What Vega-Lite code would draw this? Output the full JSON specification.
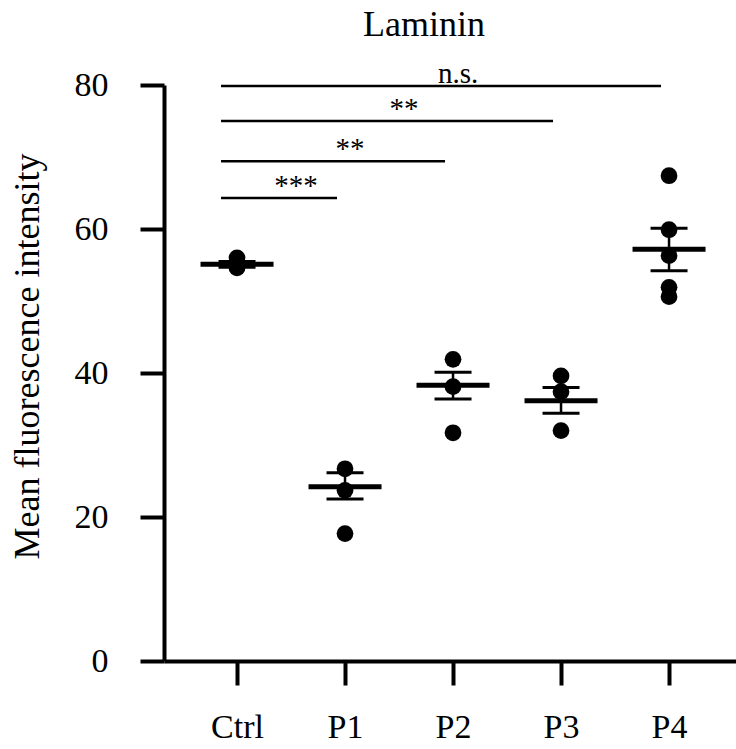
{
  "$schema": "https://vega.github.io/schema/vega-lite/v6.json",
  "width": 572,
  "height": 576,
  "autosize": "none",
  "padding": {"left": 164, "top": 85, "right": 0, "bottom": 88},
  "background": "white",
  "config": {"font": "Liberation Serif", "view": {"stroke": null}},
  "title": {"text": "Laminin", "font": "Liberation Serif", "fontSize": 36, "fontWeight": "normal", "color": "black", "frame": "group", "anchor": "middle", "dx": -26, "dy": 12, "baseline": "alphabetic", "offset": 0},
  "datasets": {
    "points": [
      {"group": "Ctrl", "pos": 0, "value": 56.0},
      {"group": "Ctrl", "pos": 0, "value": 55.0},
      {"group": "Ctrl", "pos": 0, "value": 54.6},
      {"group": "P1", "pos": 1, "value": 26.7},
      {"group": "P1", "pos": 1, "value": 23.7},
      {"group": "P1", "pos": 1, "value": 17.7},
      {"group": "P2", "pos": 2, "value": 41.9},
      {"group": "P2", "pos": 2, "value": 38.1},
      {"group": "P2", "pos": 2, "value": 31.7},
      {"group": "P3", "pos": 3, "value": 39.6},
      {"group": "P3", "pos": 3, "value": 37.4},
      {"group": "P3", "pos": 3, "value": 32.0},
      {"group": "P4", "pos": 4, "value": 67.4},
      {"group": "P4", "pos": 4, "value": 59.9},
      {"group": "P4", "pos": 4, "value": 56.3},
      {"group": "P4", "pos": 4, "value": 51.9},
      {"group": "P4", "pos": 4, "value": 50.6}
    ],
    "summary": [
      {"group": "Ctrl", "pos": 0, "mean": 55.1, "lo": 54.7, "hi": 55.5},
      {"group": "P1", "pos": 1, "mean": 24.2, "lo": 22.5, "hi": 26.15},
      {"group": "P2", "pos": 2, "mean": 38.3, "lo": 36.4, "hi": 40.1},
      {"group": "P3", "pos": 3, "mean": 36.15, "lo": 34.4, "hi": 38.0},
      {"group": "P4", "pos": 4, "mean": 57.2, "lo": 54.2, "hi": 60.1}
    ],
    "brackets": [
      {"label": "n.s.", "from": 0, "to": 4, "level": 79.86},
      {"label": "**", "from": 0, "to": 3, "level": 75.0},
      {"label": "**", "from": 0, "to": 2, "level": 69.4},
      {"label": "***", "from": 0, "to": 1, "level": 64.3}
    ]
  },
  "encoding": {
    "x": {
      "type": "quantitative",
      "scale": {"domain": [-0.676, 4.62], "nice": false, "zero": false},
      "axis": {
        "values": [0, 1, 2, 3, 4],
        "labelExpr": "['Ctrl','P1','P2','P3','P4'][datum.value]",
        "title": null,
        "grid": false,
        "domainColor": "black",
        "domainWidth": 4,
        "tickColor": "black",
        "tickWidth": 4,
        "tickSize": 24,
        "labelFont": "Liberation Serif",
        "labelFontSize": 34,
        "labelColor": "black",
        "labelPadding": 25,
        "labelFlush": false,
        "labelOverlap": false
      }
    }
  },
  "layer": [
    {
      "data": {"name": "points"},
      "mark": {"type": "circle", "color": "black", "opacity": 1, "size": 280},
      "encoding": {
        "x": {"field": "pos", "type": "quantitative"},
        "y": {
          "field": "value",
          "type": "quantitative",
          "scale": {"domain": [0, 80], "nice": false},
          "axis": {
            "values": [0, 20, 40, 60, 80],
            "title": "Mean fluorescence intensity",
            "titleFont": "Liberation Serif",
            "titleFontSize": 36,
            "titleFontWeight": "normal",
            "titleColor": "black",
            "titleX": -137,
            "titleY": 271,
            "titleAlign": "center",
            "titleBaseline": "middle",
            "grid": false,
            "domainColor": "black",
            "domainWidth": 4,
            "tickColor": "black",
            "tickWidth": 4,
            "tickSize": 24,
            "labelFont": "Liberation Serif",
            "labelFontSize": 34,
            "labelColor": "black",
            "labelPadding": 32,
            "labelFlush": false
          }
        }
      }
    },
    {
      "data": {"name": "summary"},
      "mark": {"type": "tick", "orient": "horizontal", "color": "black", "opacity": 1, "size": 73, "thickness": 5},
      "encoding": {
        "x": {"field": "pos", "type": "quantitative"},
        "y": {"field": "mean", "type": "quantitative"}
      }
    },
    {
      "data": {"name": "summary"},
      "mark": {"type": "rule", "color": "black", "strokeWidth": 2.5},
      "encoding": {
        "x": {"field": "pos", "type": "quantitative"},
        "y": {"field": "lo", "type": "quantitative"},
        "y2": {"field": "hi"}
      }
    },
    {
      "data": {"name": "summary"},
      "mark": {"type": "tick", "orient": "horizontal", "color": "black", "opacity": 1, "size": 37, "thickness": 3},
      "encoding": {
        "x": {"field": "pos", "type": "quantitative"},
        "y": {"field": "hi", "type": "quantitative"}
      }
    },
    {
      "data": {"name": "summary"},
      "mark": {"type": "tick", "orient": "horizontal", "color": "black", "opacity": 1, "size": 37, "thickness": 3},
      "encoding": {
        "x": {"field": "pos", "type": "quantitative"},
        "y": {"field": "lo", "type": "quantitative"}
      }
    },
    {
      "data": {"name": "brackets"},
      "mark": {"type": "rule", "color": "black", "strokeWidth": 2.5, "xOffset": -16, "x2Offset": -8},
      "encoding": {
        "x": {"field": "from", "type": "quantitative"},
        "x2": {"field": "to"},
        "y": {"field": "level", "type": "quantitative"}
      }
    },
    {
      "data": {"name": "brackets"},
      "transform": [
        {"fold": ["from", "to"], "as": ["end", "p"]},
        {"aggregate": [{"op": "mean", "field": "p", "as": "mid"}], "groupby": ["label", "level"]}
      ],
      "mark": {"type": "text", "color": "black", "font": "Liberation Serif", "fontSize": 29, "baseline": "alphabetic", "align": "center", "dy": -3, "dx": 5},
      "encoding": {
        "x": {"field": "mid", "type": "quantitative"},
        "y": {"field": "level", "type": "quantitative"},
        "text": {"field": "label"}
      }
    }
  ]
}
